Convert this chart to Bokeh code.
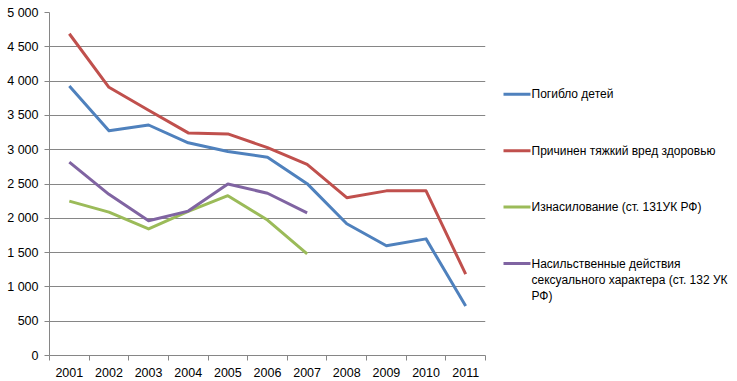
from bokeh.plotting import figure
from bokeh.models import FixedTicker, Range1d
from bokeh.layouts import row
from bokeh.core.properties import value
from bokeh.embed import file_html
from bokeh.resources import INLINE

years = ["2001", "2002", "2003", "2004", "2005", "2006", "2007", "2008", "2009", "2010", "2011"]
pogiblo = [3930, 3275, 3360, 3100, 2975, 2890, 2505, 1920, 1600, 1700, 720]
vred = [4690, 3910, 3575, 3245, 3230, 3030, 2785, 2300, 2400, 2400, 1185]
iznas = [2250, 2090, 1845, 2100, 2330, 1975, 1480]
nasil = [2820, 2350, 1965, 2105, 2500, 2365, 2080]

names = [
    "Погибло детей",
    "Причинен тяжкий вред здоровью",
    "Изнасилование (ст. 131УК РФ)",
    "Насильственные действия\nсексуального характера (ст. 132 УК\nРФ)",
]
colors = ["#4F81BD", "#C0504D", "#9BBB59", "#8064A2"]
y_ticks = list(range(0, 5001, 500))

FONT = "Liberation Sans"
FS = "12.5px"
LFS = "12px"
GRID = "#868686"
H = 381
LW = 247

p = figure(width=490, height=H, output_backend="svg", toolbar_location=None,
           x_range=Range1d(0, len(years)), y_range=Range1d(0, 5000),
           min_border_left=49, min_border_top=12, min_border_bottom=26, min_border_right=5,
           frame_width=436, frame_height=343)
p.outline_line_color = None
p.background_fill_color = "white"

centers = [i + 0.5 for i in range(len(years))]
bounds = list(range(len(years) + 1))

p.xaxis.ticker = FixedTicker(ticks=centers, minor_ticks=bounds)
p.xaxis.major_label_overrides = {c: y for c, y in zip(centers, years)}
p.xaxis.major_tick_line_color = None
p.xaxis.minor_tick_line_color = GRID
p.xaxis.minor_tick_out = 5
p.xaxis.minor_tick_in = 0
p.xaxis.axis_line_color = GRID
p.xaxis.major_label_standoff = 6
p.xaxis.major_label_text_font = FONT
p.xaxis.major_label_text_font_size = FS
p.xaxis.major_label_text_color = "black"

p.yaxis.ticker = FixedTicker(ticks=y_ticks)
p.yaxis.major_label_overrides = {t: (f"{t:,}".replace(",", " ")) for t in y_ticks}
p.yaxis.major_tick_line_color = GRID
p.yaxis.major_tick_out = 5
p.yaxis.major_tick_in = 0
p.yaxis.minor_tick_line_color = None
p.yaxis.axis_line_color = GRID
p.yaxis.major_label_standoff = 6
p.yaxis.major_label_text_font = FONT
p.yaxis.major_label_text_font_size = FS
p.yaxis.major_label_text_color = "black"

p.xgrid.grid_line_color = None
p.ygrid.ticker = FixedTicker(ticks=y_ticks)
p.ygrid.grid_line_color = GRID
p.ygrid.grid_line_width = 1

series = [pogiblo, vred, iznas, nasil]
for vals, col in zip(series, colors):
    p.line(centers[:len(vals)], vals, line_color=col, line_width=3, line_join="round")

# Legend panel (Excel style: marker aligned with the first line of each label)
L = figure(width=LW, height=H, output_backend="svg", toolbar_location=None,
           frame_width=LW, frame_height=H,
           x_range=Range1d(0, LW), y_range=Range1d(H, 0),
           x_axis_type=None, y_axis_type=None,
           min_border_left=0, min_border_right=0, min_border_top=0, min_border_bottom=0)
L.title.visible = False
L.outline_line_color = None
L.xgrid.visible = False
L.ygrid.visible = False

item_top, item_step, line_step = 81.8, 56.4, 16.3
glyph_x0, glyph_x1, text_x = 13, 40, 41
for i, (name, col) in enumerate(zip(names, colors)):
    yc = item_top + i * item_step
    L.line([glyph_x0, glyph_x1], [yc, yc], line_color=col, line_width=3)
    lines = name.split("\n")
    L.text(x=[text_x] * len(lines), y=[yc + k * line_step for k in range(len(lines))], text=lines,
           text_font=value(FONT), text_font_size=LFS, text_baseline="middle",
           text_align="left", text_color="black")

open("out.html", "w").write(file_html(row(p, L), INLINE))
